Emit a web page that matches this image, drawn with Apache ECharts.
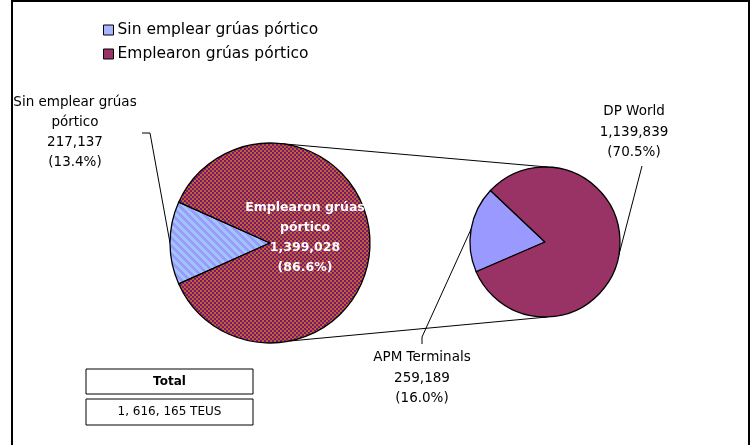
<!DOCTYPE html>
<html>
<head>
<meta charset="utf-8">
<script src="https://cdn.jsdelivr.net/npm/echarts@6/dist/echarts.min.js"></script>
<style>
  html, body { margin: 0; padding: 0; background: #fff; }
  #chart { width: 755px; height: 445px; }
</style>
</head>
<body>
<div id="chart"></div>
<script>
// crane usage (first pie)
const craneNames = ['Sin emplear grúas pórtico', 'Emplearon grúas pórtico'];
const craneValues = [217137, 1399028];
// terminals that used cranes (second pie)
const terminalNames = ['APM Terminals', 'DP World'];
const terminalValues = [259189, 1139839];
const totalLabel = '1, 616, 165 TEUS';

const grandTotal = craneValues.reduce((a, b) => a + b, 0);
const font = 'DejaVu Sans';

// pie geometry
const bigC = [270, 243], bigR = 100;
const smallC = [545, 242], smallR = 75;

function makePattern(w, h, fn) {
  const c = document.createElement('canvas');
  c.width = w; c.height = h;
  const ctx = c.getContext('2d');
  for (let x = 0; x < w; x++) {
    for (let y = 0; y < h; y++) {
      ctx.fillStyle = fn(x, y);
      ctx.fillRect(x, y, 1, 1);
    }
  }
  return { image: c, repeat: 'repeat' };
}
const checker = makePattern(4, 4, (x, y) =>
  ((Math.floor(x / 2) + Math.floor(y / 2)) % 2 === 0) ? '#76157a' : '#c0632a');
const stripes = makePattern(8, 8, (x, y) =>
  (((x - y) % 8 + 8) % 8 < 4) ? '#a0c6ff' : '#9b9bfb');

function fmtNum(v) { return v.toLocaleString('en-US'); }
function pct(v) { return '(' + (v / grandTotal * 100).toFixed(1) + '%)'; }
function wrapName(n) { return n.replace(' pórtico', '\npórtico'); }

function pt(c, r, deg) {
  const a = deg * Math.PI / 180;
  return [c[0] + r * Math.cos(a), c[1] - r * Math.sin(a)];
}

const chart = echarts.init(document.getElementById('chart'));

const craneStart = 180 + craneValues[0] / grandTotal * 180;
const termStart = 170 + terminalValues[0] / (terminalValues[0] + terminalValues[1]) * 180;

// where the labels sit
const craneLabelPos = [
  { x: 75, y: 132, line: [[150, 133], [142, 133]] },
  { x: 305, y: 238 }
];
const termLabelPos = [
  { x: 422, y: 378, line: [[422, 337], [422, 344]] },
  { x: 634, y: 132, line: [[642, 166]] }
];

const topA = pt(bigC, bigR, 83), topB = pt(smallC, smallR, 88);
const botA = pt(bigC, bigR, -78.6), botB = pt(smallC, smallR, -88);

chart.setOption({
  animation: false,
  textStyle: { fontFamily: font },
  legend: {
    orient: 'vertical',
    left: 103,
    top: 21,
    padding: 0,
    itemGap: 6,
    itemWidth: 10,
    itemHeight: 10,
    icon: 'rect',
    textStyle: { fontFamily: font, fontSize: 15.5, color: '#000', padding: [0, 0, 0, -1], lineHeight: 18 },
    data: [
      { name: craneNames[0], itemStyle: { color: '#a7b4ff', borderColor: '#000', borderWidth: 1 } },
      { name: craneNames[1], itemStyle: { color: '#993366', borderColor: '#000', borderWidth: 1 } }
    ]
  },
  graphic: [
    { type: 'rect', shape: { x: 12, y: 1, width: 737, height: 520 }, style: { fill: 'none', stroke: '#000', lineWidth: 2 }, z: 0 },
    { type: 'line', shape: { x1: topA[0], y1: topA[1], x2: topB[0], y2: topB[1] }, style: { stroke: '#000', lineWidth: 1 } },
    { type: 'line', shape: { x1: botA[0], y1: botA[1], x2: botB[0], y2: botB[1] }, style: { stroke: '#000', lineWidth: 1 } },
    { type: 'rect', shape: { x: 86, y: 369, width: 167, height: 25 }, style: { fill: '#fff', stroke: '#000', lineWidth: 1 } },
    { type: 'text', x: 169.5, y: 382, style: { text: 'Total', fontFamily: font, fontSize: 12, fontWeight: 'bold', fill: '#000', align: 'center', verticalAlign: 'middle' } },
    { type: 'rect', shape: { x: 86, y: 399, width: 167, height: 26 }, style: { fill: '#fff', stroke: '#000', lineWidth: 1 } },
    { type: 'text', x: 169.5, y: 412, style: { text: totalLabel, fontFamily: font, fontSize: 12, fill: '#000', align: 'center', verticalAlign: 'middle' } }
  ],
  series: [
    {
      type: 'pie',
      center: bigC,
      radius: bigR,
      startAngle: craneStart,
      clockwise: true,
      avoidLabelOverlap: false,
      itemStyle: { borderColor: '#000', borderWidth: 1.3 },
      emphasis: { disabled: true },
      label: {
        fontFamily: font, fontSize: 13.5, color: '#000', lineHeight: 20,
        formatter: p => wrapName(p.name) + '\n' + fmtNum(p.value) + '\n' + pct(p.value)
      },
      labelLine: { show: true, lineStyle: { color: '#000', width: 1 } },
      labelLayout: p => {
        const pos = craneLabelPos[p.dataIndex];
        const out = { x: pos.x, y: pos.y, align: 'center', verticalAlign: 'middle' };
        if (pos.line && p.labelLinePoints) {
          out.labelLinePoints = [pt(bigC, bigR, 180)].concat(pos.line);
        }
        return out;
      },
      data: [
        { name: craneNames[0], value: craneValues[0], itemStyle: { color: stripes } },
        {
          name: craneNames[1], value: craneValues[1], itemStyle: { color: checker },
          label: { position: 'inside', color: '#fff', fontWeight: 'bold', fontSize: 12.5, lineHeight: 20 },
          labelLine: { show: false }
        }
      ]
    },
    {
      type: 'pie',
      center: smallC,
      radius: smallR,
      startAngle: termStart,
      clockwise: true,
      avoidLabelOverlap: false,
      itemStyle: { borderColor: '#000', borderWidth: 1.3 },
      emphasis: { disabled: true },
      label: {
        fontFamily: font, fontSize: 13.5, color: '#000', lineHeight: 20.5,
        formatter: p => p.name + '\n' + fmtNum(p.value) + '\n' + pct(p.value)
      },
      labelLine: { show: true, lineStyle: { color: '#000', width: 1 } },
      labelLayout: p => {
        const pos = termLabelPos[p.dataIndex];
        const out = { x: pos.x, y: pos.y, align: 'center', verticalAlign: 'middle' };
        if (p.labelLinePoints) {
          out.labelLinePoints = [p.labelLinePoints[0]].concat(pos.line);
        }
        return out;
      },
      data: [
        { name: terminalNames[0], value: terminalValues[0], itemStyle: { color: '#9999ff' } },
        { name: terminalNames[1], value: terminalValues[1], itemStyle: { color: '#993366' } }
      ]
    }
  ]
});
</script>
</body>
</html>
